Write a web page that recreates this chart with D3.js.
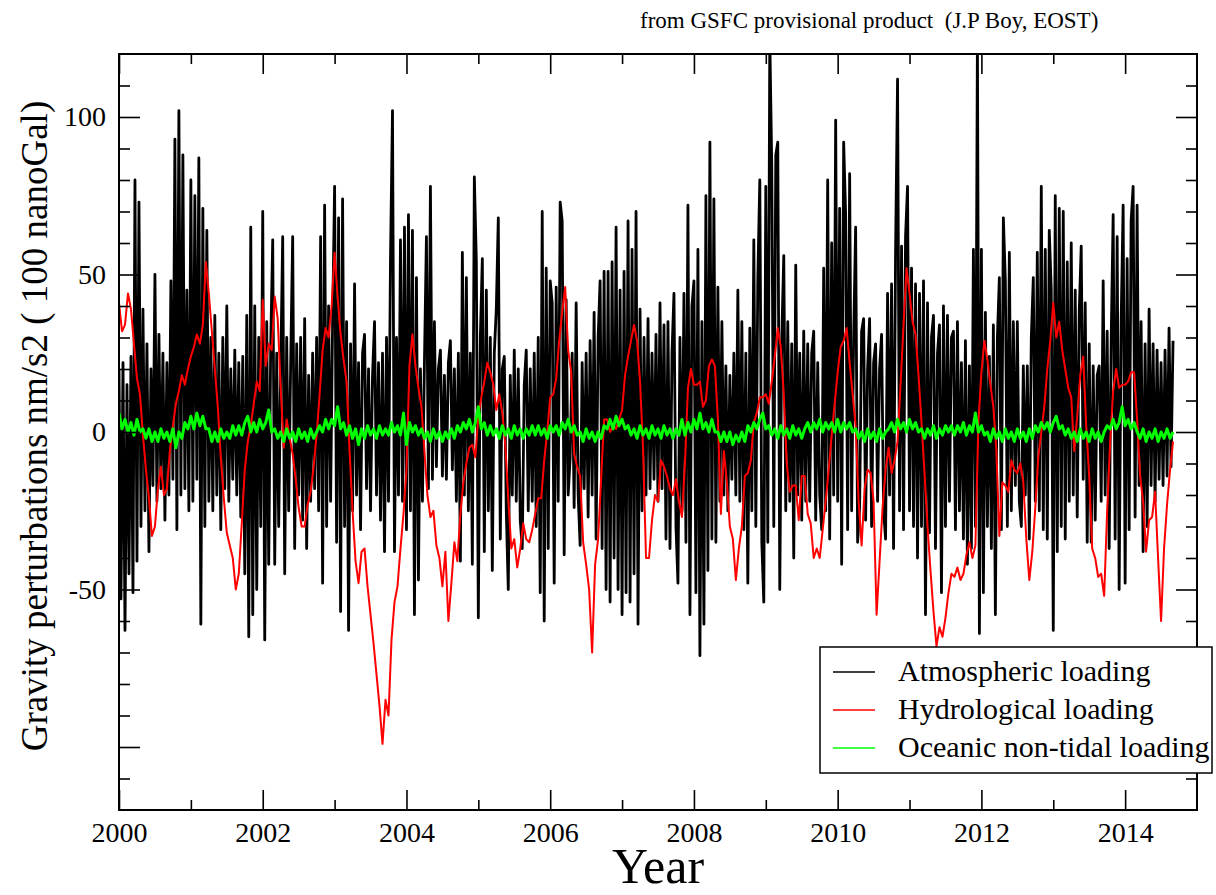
<!DOCTYPE html>
<html>
<head>
<meta charset="utf-8">
<script src="https://cdn.jsdelivr.net/npm/d3@7"></script>
<style>
  html, body { margin: 0; padding: 0; background: #fff; }
  svg text { font-family: 'Liberation Serif', 'Times New Roman', serif; fill: #000; }
</style>
</head>
<body>
<svg id="chart" width="1216" height="895"></svg>
<script>
// Gravity loading time series, decimal years from 2000.0
const startYear = 2000;
const atmStep = 1 / 36;   // years between atmospheric samples
const hydStep = 1 / 24;   // years between hydrological samples
const oceStep = 1 / 24;   // years between oceanic samples

// Atmospheric loading (nm/s2)
const atmospheric = [
  20,-53,22,-63,15,-45,24,-51,80,-41,
  73,-30,39,-25,28,-38,20,-17,50,-22,
  31,-18,25,-28,22,-20,48,-15,93,-31,
  102,-20,88,-18,45,-25,80,-22,75,-15,
  87,-61,71,-30,64,-22,30,-25,37,-20,
  25,-31,30,-18,40,-22,20,-15,26,-20,
  22,-27,24,-45,37,-65,
  65,-58,40,-50,30,-30,70,-66,35,-42,
  28,61,-42,25,-30,20,62,-45,30,-25,
  22,62,-37,28,-20,30,-28,36,-37,18,
  -22,25,-18,30,-25,62,-48,72,-30,40,
  -22,35,78,-35,68,-57,74,-30,35,-63,
  28,-25,47,-20,22,-31,25,31,-18,20,
  -25,18,35,-20,22,-28,25,-38,30,-22,
  55,102,-38,30,-20,61,-22,65,-31,69,
  -25,64,-58,49,-47,20,-22,22,62,-18,
  78,-15,35,-11,20,26,-14,18,-15,22,
  29,-12,20,-22,25,-41,57,-20,49,-25,
  25,-42,81,54,-59,30,55,-38,45,-25,
  30,-44,25,39,68,-34,20,24,-25,-50,
  18,-20,26,-22,20,-28,-37,15,26,-25,
  20,-22,25,-30,30,-51,70,-60,52,-37,
  48,41,-48,46,-22,73,67,-39,42,-20,
  -8,25,-24,41,-20,-36,22,-18,25,-27,
  29,-20,38,-34,30,48,-37,51,-50,51,
  -54,54,-40,65,-50,45,-58,51,-51,67,
  -54,58,-45,70,-61,39,-25,30,-20,36,
  -18,25,-15,31,-22,41,-18,34,-34,35,
  -37,25,44,-30,-48,30,-25,44,-35,72,
  -58,40,48,-51,58,-71,35,-61,75,-44,
  92,-34,74,-35,46,-22,35,-20,21,-25,
  18,-15,25,-20,45,-22,35,-31,25,-48,
  33,-25,61,-30,49,80,-35,-54,78,-35,
  125,84,-30,88,92,-50,30,56,-25,35,
  -22,28,-40,53,-20,25,-28,32,-22,28,
  -22,25,32,-28,22,-20,-31,52,-25,80,
  -34,60,-20,99,-22,71,-42,92,69,-31,
  82,-25,30,65,-35,-24,32,36,-28,20,
  36,-30,22,28,-22,20,31,-25,-34,44,
  -20,47,-37,57,112,-25,59,-31,62,78,
  -25,52,-30,47,-40,44,-30,48,-58,41,
  -32,30,37,-37,25,34,-51,40,-30,37,
  -22,30,32,-31,35,-25,22,-34,29,-42,
  21,-37,58,-30,125,-64,58,-51,38,-30,
  24,-37,34,-58,30,49,-31,68,48,-30,
  57,-25,35,-17,35,-22,-30,21,-20,21,
  -34,30,49,-22,57,-25,78,-31,58,-34,
  64,45,-63,75,-38,71,-30,70,-34,54,
  -22,60,-20,45,-27,38,59,-15,41,-35,
  28,-35,21,-28,18,21,-22,48,-20,32,
  -37,29,69,-34,62,-50,35,72,-48,55,
  -31,67,78,-27,72,-17,35,-38,28,-30,
  39,-17,28,-22,26,-15,22,-17,26,-14,
  33,-11,29
];

// Hydrological loading (nm/s2)
const hydrological = [
  41,32,34,44,39,28,17,12,-1,-12,
  -21,-33,-30,-18,-11,-20,-18,-6,2,9,
  13,18,15,20,24,27,31,28,34,54,
  44,32,20,8,-8,-21,-32,-36,-40,-50,
  -45,-29,-12,-3,2,9,16,13,42,21,
  28,26,43,36,14,-5,4,-2,-7,-15,
  -24,-30,-30,-23,-19,-11,-1,12,26,33,
  30,40,57,43,31,23,16,-6,-25,-41,
  -48,-38,-37,-49,-58,-67,-77,-87,-99,-85,
  -90,-66,-54,-49,-37,-26,-12,21,31,21,
  14,8,-6,-20,-27,-25,-36,-40,-49,-38,
  -60,-48,-35,-41,-26,-16,-10,-5,-4,-8,
  5,11,16,22,19,15,7,12,6,-4,
  -21,-37,-34,-43,-37,-29,-34,-35,-31,-26,
  -21,-21,-9,0,11,12,17,29,38,46,
  26,19,-7,-11,-14,-35,-42,-50,-70,-42,
  -34,-15,4,4,0,2,1,4,7,18,
  24,29,34,29,16,-5,-40,-40,-28,-20,
  -22,-9,-11,-14,-18,-20,-15,-22,-27,-10,
  14,20,15,15,16,8,10,21,23,21,
  4,-26,-6,-16,-30,-34,-47,-37,-30,-14,
  -13,-9,3,6,11,11,12,9,16,24,
  33,27,12,-10,-19,-17,-17,-28,-14,-14,
  -26,-29,-40,-37,-40,-31,-22,-12,-1,9,
  19,27,29,33,22,12,2,-22,-36,-18,
  -12,-13,-22,-58,-41,-24,-12,-5,-13,-9,
  -3,15,34,52,44,35,31,18,3,-13,
  -30,-44,-57,-68,-62,-65,-59,-51,-45,-46,
  -43,-47,-45,-39,-35,-40,-36,3,19,29,
  23,15,8,-6,-33,-16,-17,-19,-9,-12,
  -13,-10,-16,-34,-47,-38,-24,-8,0,8,
  20,29,41,30,35,26,20,14,11,-6,
  5,18,24,2,-14,-37,-40,-46,-45,-52,
  -25,-3,13,20,14,15,15,16,19,19,
  4,-14,-22,-38,-28,-27,-19,-40,-60,-37,
  -23,-12,-3
];

// Oceanic non-tidal loading (nm/s2)
const oceanic = [
  6,1,4,0,3,-1,4,0,1,-2,
  1,-3,0,-3,1,-2,0,-3,1,-5,
  0,-2,3,1,5,1,6,2,5,1,
  1,-3,0,-3,1,-2,0,-2,2,-1,
  2,-1,3,5,0,3,0,4,1,3,
  7,0,1,-2,0,-3,1,-2,0,-3,
  1,-2,0,-3,1,-2,0,2,0,4,
  1,4,2,8,1,3,-1,2,-2,1,
  -4,1,-2,2,-1,1,-2,2,-1,1,
  -1,3,0,2,-1,6,-4,3,0,2,
  -1,1,-2,0,-3,1,-2,0,-3,0,
  -2,1,-2,2,0,3,1,4,0,3,
  8,1,3,-1,2,-1,1,-2,2,-1,
  1,-2,2,-1,1,-2,1,-1,2,-1,
  2,-1,1,-2,2,0,2,-1,3,1,
  4,0,2,-1,0,-3,1,-2,0,-3,
  0,-2,2,1,4,1,5,2,4,1,
  2,-1,1,-2,2,-1,1,-2,2,-1,
  1,-2,2,-1,1,-2,1,-1,4,-1,
  3,0,4,1,6,1,3,0,4,0,
  0,-3,0,-3,0,-4,-1,-3,0,-3,
  2,0,3,1,4,6,1,2,-1,1,
  -2,2,-1,1,-2,2,-1,1,-2,1,
  3,0,3,1,4,0,3,1,3,0,
  4,0,3,1,3,0,1,-2,0,-3,
  1,-2,0,-3,1,-2,0,1,3,0,
  4,1,3,0,4,1,3,0,1,-2,
  1,-1,2,-2,1,-1,2,0,2,-1,
  2,0,3,-1,2,0,6,0,2,-1,
  0,-3,1,-2,0,-3,1,-2,0,-3,
  1,-2,0,-3,1,-2,2,0,3,1,
  3,0,3,5,1,2,-1,1,-2,0,
  -3,1,-2,0,-3,1,-2,0,-3,0,
  2,1,4,1,3,8,2,4,1,3,
  0,-2,1,-3,0,-2,1,-3,0,-2,
  1,-2,0
];

// Axis ticks and labels
const yearLabels = [2000, 2002, 2004, 2006, 2008, 2010, 2012, 2014];
const yearMinor = [2001, 2003, 2005, 2007, 2009, 2011, 2013];
const yMajor = [-100, -50, 0, 50, 100];
const yLabels = [-50, 0, 50, 100];
const yMinor = [-110, -90, -80, -70, -60, -40, -30, -20, -10, 10, 20, 30, 40, 60, 70, 80, 90, 110];

const seriesNames = ["Atmospheric loading", "Hydrological loading", "Oceanic non-tidal loading"];
const seriesColors = ["#000000", "#ff0000", "#00ff00"];

const titleText = "from GSFC provisional product  (J.P Boy, EOST)";
const yTitle = "Gravity perturbations nm/s2 ( 100 nanoGal)";
const xTitle = "Year";

// ---- layout
const plot = { left: 119, right: 1197, top: 54, bottom: 810 };
const svg = d3.select("#chart");

const x = d3.scaleLinear().domain([2000, 2015]).range([plot.left, plot.right]);
const y = d3.scaleLinear().domain([-120, 120]).range([plot.bottom, plot.top]);

svg.append("defs").append("clipPath").attr("id", "plotClip")
  .append("rect")
  .attr("x", plot.left).attr("y", plot.top)
  .attr("width", plot.right - plot.left).attr("height", plot.bottom - plot.top);

// ---- data lines
const dataG = svg.append("g").attr("clip-path", "url(#plotClip)");
const lineFor = step => d3.line()
  .x((d, i) => x(startYear + i * step))
  .y(d => y(d));

const series = [
  { values: atmospheric, step: atmStep, color: seriesColors[0], width: 2.8 },
  { values: hydrological, step: hydStep, color: seriesColors[1], width: 2 },
  { values: oceanic, step: oceStep, color: seriesColors[2], width: 3 }
];
series.forEach(s => {
  dataG.append("path")
    .datum(s.values)
    .attr("fill", "none")
    .attr("stroke", s.color)
    .attr("stroke-width", s.width)
    .attr("stroke-linejoin", "round")
    .attr("d", lineFor(s.step));
});

// ---- axes (ticks pointing inward on all four sides)
function styleAxis(g, fontSize) {
  g.select(".domain").remove();
  g.selectAll(".tick line").attr("stroke", "#000").attr("stroke-width", 1.6);
  g.selectAll("text")
    .attr("font-family", "'Liberation Serif', 'Times New Roman', serif")
    .attr("font-size", fontSize)
    .attr("fill", "#000");
  g.attr("font-family", null).attr("font-size", null);
}

// left
svg.append("g").attr("transform", `translate(${plot.left},0)`)
  .call(d3.axisLeft(y).tickValues(yMajor).tickSizeInner(-21).tickSizeOuter(0).tickPadding(13)
    .tickFormat(d => yLabels.includes(d) ? String(d) : ""))
  .call(g => styleAxis(g, 28));
svg.append("g").attr("transform", `translate(${plot.left},0)`)
  .call(d3.axisLeft(y).tickValues(yMinor).tickSizeInner(-11).tickSizeOuter(0).tickFormat(""))
  .call(g => styleAxis(g, 28));
// right
svg.append("g").attr("transform", `translate(${plot.right},0)`)
  .call(d3.axisRight(y).tickValues(yMajor).tickSizeInner(-21).tickSizeOuter(0).tickFormat(""))
  .call(g => styleAxis(g, 28));
svg.append("g").attr("transform", `translate(${plot.right},0)`)
  .call(d3.axisRight(y).tickValues(yMinor).tickSizeInner(-11).tickSizeOuter(0).tickFormat(""))
  .call(g => styleAxis(g, 28));
// bottom
svg.append("g").attr("transform", `translate(0,${plot.bottom})`)
  .call(d3.axisBottom(x).tickValues(yearLabels).tickSizeInner(-20).tickSizeOuter(0).tickPadding(12)
    .tickFormat(d => String(d)))
  .call(g => styleAxis(g, 28));
svg.append("g").attr("transform", `translate(0,${plot.bottom})`)
  .call(d3.axisBottom(x).tickValues(yearMinor).tickSizeInner(-10).tickSizeOuter(0).tickFormat(""))
  .call(g => styleAxis(g, 28));
// top
svg.append("g").attr("transform", `translate(0,${plot.top})`)
  .call(d3.axisTop(x).tickValues(yearLabels).tickSizeInner(-20).tickSizeOuter(0).tickFormat(""))
  .call(g => styleAxis(g, 28));
svg.append("g").attr("transform", `translate(0,${plot.top})`)
  .call(d3.axisTop(x).tickValues(yearMinor).tickSizeInner(-10).tickSizeOuter(0).tickFormat(""))
  .call(g => styleAxis(g, 28));

// frame
svg.append("rect")
  .attr("x", plot.left).attr("y", plot.top)
  .attr("width", plot.right - plot.left).attr("height", plot.bottom - plot.top)
  .attr("fill", "none").attr("stroke", "#000").attr("stroke-width", 2);

// ---- titles
svg.append("text")
  .attr("x", 640).attr("y", 28)
  .attr("font-size", 23)
  .style("white-space", "pre")
  .text(titleText);

svg.append("text")
  .attr("transform", `translate(47,426) rotate(-90)`)
  .attr("text-anchor", "middle")
  .attr("font-size", 37)
  .text(yTitle);

svg.append("text")
  .attr("x", (plot.left + plot.right) / 2).attr("y", 883)
  .attr("text-anchor", "middle")
  .attr("font-size", 50)
  .text(xTitle);

// ---- legend
const legend = svg.append("g");
legend.append("rect")
  .attr("x", 820).attr("y", 647).attr("width", 392).attr("height", 126)
  .attr("fill", "#fff").attr("stroke", "#000").attr("stroke-width", 1.5);
seriesNames.forEach((name, k) => {
  const ly = 672 + k * 38;
  legend.append("line")
    .attr("x1", 833).attr("x2", 875).attr("y1", ly).attr("y2", ly)
    .attr("stroke", seriesColors[k]).attr("stroke-width", 1.5);
  legend.append("text")
    .attr("x", 898).attr("y", ly + 9)
    .attr("font-size", 30)
    .text(name);
});
</script>
</body>
</html>
